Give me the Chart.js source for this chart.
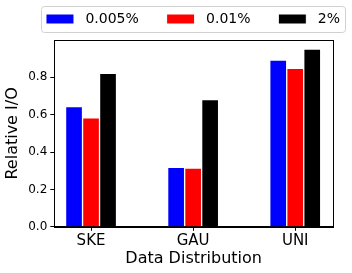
<!DOCTYPE html>
<html>
<head>
<meta charset="utf-8">
<script src="https://cdn.jsdelivr.net/npm/chart.js@4/dist/chart.umd.min.js"></script>
<style>
  html, body { margin: 0; padding: 0; background: #fff; }
  #wrap { width: 352px; height: 273px; }
</style>
</head>
<body>
<div id="wrap"><canvas id="chart"></canvas></div>
<script>
// data
const categories = ['SKE', 'GAU', 'UNI'];
const series_names = ['0.005%', '0.01%', '2%'];
const series_colors = ['#0000ff', '#ff0000', '#000000'];
const vals_0005 = [0.643, 0.319, 0.892];
const vals_001 = [0.584, 0.314, 0.849];
const vals_2 = [0.822, 0.681, 0.951];
const y_ticks = [0.0, 0.2, 0.4, 0.6, 0.8];

const all_vals = [vals_0005, vals_001, vals_2];
const font_family = "'DejaVu Sans', sans-serif";
const legend_shift = -4;

function to_points(arr) {
    return arr.map((v, i) => ({ x: i, y: v }));
}

// lift the legend a little
const legend_lift = {
    id: 'legend_lift',
    beforeDraw(chart) {
        let lg = chart.legend;
        lg.top += legend_shift;
        lg.bottom += legend_shift;
    }
};

// frame round the plot (all four spines) and round the legend
const frame_plugin = {
    id: 'frame',
    afterDraw(chart) {
        let ctx = chart.ctx;
        let a = chart.chartArea;
        ctx.save();
        ctx.strokeStyle = '#000';
        ctx.lineWidth = 1;
        ctx.strokeRect(Math.round(a.left) + 0.5, Math.round(a.top) + 0.5,
            Math.round(a.right - a.left), Math.round(a.bottom - a.top));
        let boxes = chart.legend.legendHitBoxes;
        if (boxes && boxes.length) {
            let l = Math.min(...boxes.map(b => b.left)) - 5;
            let r = Math.max(...boxes.map(b => b.left + b.width)) + 5;
            let t = Math.min(...boxes.map(b => b.top)) + legend_shift - 6;
            let btm = Math.max(...boxes.map(b => b.top + b.height)) + legend_shift + 6;
            ctx.strokeStyle = '#d0d0d0';
            ctx.beginPath();
            ctx.roundRect(l + 0.5, t + 0.5, r - l, btm - t, 3);
            ctx.stroke();
        }
        ctx.restore();
    }
};

let datasets = series_names.map((name, k) => ({
    label: name,
    data: to_points(all_vals[k]),
    backgroundColor: series_colors[k],
    borderColor: '#ffffff',
    borderWidth: 1,
    borderSkipped: 'start',
    barThickness: 17
}));

let chart = new Chart(document.getElementById('chart'), {
    type: 'bar',
    data: { datasets: datasets },
    plugins: [legend_lift, frame_plugin],
    options: {
        responsive: true,
        maintainAspectRatio: false,
        animation: false,
        devicePixelRatio: 1,
        layout: { padding: { left: 3, right: 2, top: 6, bottom: 5 } },
        scales: {
            x: {
                type: 'linear',
                min: -0.36,
                max: 2.37,
                offset: false,
                afterBuildTicks: (s) => { s.ticks = categories.map((c, i) => ({ value: i })); },
                ticks: {
                    callback: (v) => categories[v],
                    color: '#000',
                    font: { family: font_family, size: 15 },
                    maxRotation: 0,
                    padding: 1
                },
                grid: { display: true, offset: false, drawOnChartArea: false, drawTicks: true, tickLength: 4, tickColor: '#000' },
                border: { display: true, color: '#000' },
                title: {
                    display: true,
                    text: 'Data Distribution',
                    color: '#000',
                    font: { family: font_family, size: 16 },
                    padding: { top: -2, bottom: 0 }
                }
            },
            y: {
                min: 0,
                max: 1.0,
                afterBuildTicks: (s) => { s.ticks = y_ticks.map(v => ({ value: v })); },
                ticks: {
                    callback: (v) => v.toFixed(1),
                    color: '#000',
                    font: { family: font_family, size: 12 },
                    padding: 3
                },
                grid: { display: true, drawOnChartArea: false, drawTicks: true, tickLength: 4, tickColor: '#000' },
                border: { display: true, color: '#000' },
                title: {
                    display: true,
                    text: 'Relative I/O',
                    color: '#000',
                    font: { family: font_family, size: 16 },
                    padding: { top: 0, bottom: 3 }
                }
            },
            // empty right axis, only to keep the plot clear of the right edge
            y_right: {
                position: 'right',
                display: true,
                ticks: { display: false },
                grid: { display: false },
                border: { display: false },
                afterFit: (s) => { s.width = 17; }
            }
        },
        plugins: {
            legend: {
                display: true,
                position: 'top',
                align: 'end',
                labels: {
                    boxWidth: 28,
                    boxHeight: 10,
                    padding: 10,
                    color: '#000',
                    font: { family: font_family, size: 14 },
                    // a leading space widens the box-text gap, trailing ones space the entries
                    generateLabels: (chart) => {
                        let items = Chart.defaults.plugins.legend.labels.generateLabels(chart);
                        items.forEach((it, i) => {
                            it.text = ' ' + it.text + (i < items.length - 1 ? '    ' : '');
                        });
                        return items;
                    }
                }
            },
            tooltip: { enabled: false }
        }
    }
});
</script>
</body>
</html>
